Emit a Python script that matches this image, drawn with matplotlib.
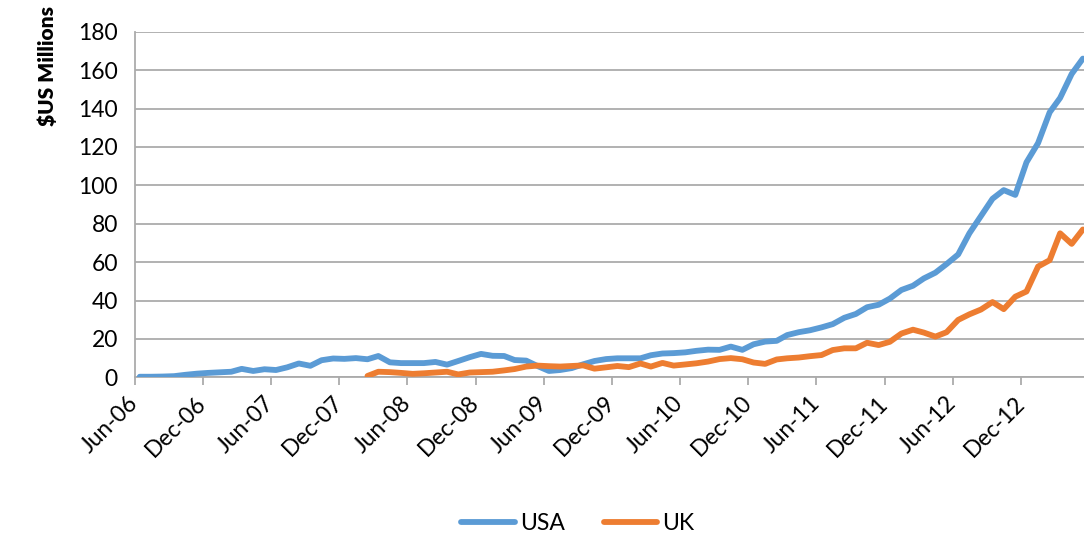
import pandas as pd
import matplotlib
matplotlib.use('Agg')
import matplotlib.pyplot as plt

# monthly values, Jun-06 .. May-13 ($US millions)
usa = [0.3, 0.3, 0.4, 0.6, 1.3, 1.9, 2.3, 2.6, 2.9, 4.4,
       3.3, 4.2, 3.8, 5.2, 7.2, 6.0, 8.9, 9.8, 9.6, 10.0,
       9.4, 11.1, 7.8, 7.4, 7.4, 7.4, 8.0, 6.6, 8.5, 10.5,
       12.2, 11.2, 11.1, 9.0, 8.7, 5.9, 3.3, 3.8, 4.8, 6.8,
       8.5, 9.5, 9.9, 9.9, 9.9, 11.5, 12.4, 12.6, 13.0, 13.8,
       14.4, 14.3, 16.0, 14.3, 17.2, 18.6, 19.0, 22.0, 23.5, 24.5,
       26.0, 27.7, 31.0, 33.0, 36.5, 37.8, 41.0, 45.5, 47.7, 51.5,
       54.5, 59.0, 64.0, 75.0, 84.0, 93.0, 97.5, 95.0, 112.0, 122.0,
       138.0, 145.5, 158.0, 166.0]

# UK series starts in Feb-08
uk = [None] * 20 + [
    0.7, 2.9, 2.7, 2.3, 1.8, 2.1, 2.5, 2.9, 1.5, 2.5,
    2.7, 2.9, 3.6, 4.3, 5.6, 6.1, 5.8, 5.6, 5.9, 6.2,
    4.5, 5.2, 5.9, 5.3, 7.2, 5.6, 7.5, 6.1, 6.7, 7.3,
    8.2, 9.5, 10.0, 9.4, 7.7, 7.0, 9.3, 9.9, 10.3, 11.0,
    11.6, 14.2, 15.1, 15.1, 18.0, 16.8, 18.5, 22.8, 24.8, 23.3,
    21.2, 23.5, 29.9, 32.8, 35.3, 39.2, 35.5, 42.0, 44.7, 57.7,
    61.0, 75.0, 69.5, 77.0]

dates = pd.date_range('2006-06-01', periods=len(usa), freq='MS') + pd.Timedelta(days=14)
tick_dates = pd.date_range('2006-06-01', '2012-12-01', freq='6MS')
tick_labels = [d.strftime('%b-%y') for d in tick_dates]

df = pd.DataFrame({'USA': usa, 'UK': uk}, index=dates).astype(float)

plt.rcParams['font.family'] = ['Lato', 'DejaVu Sans']

fig = plt.figure(figsize=(10.84, 5.33), dpi=100)
ax = fig.add_axes([0.1241, 0.2921, 0.8759, 0.6484])

grid_c = '#ABABAB'
ax.plot(df.index, df['USA'], color='#5B9BD5', lw=4.2, solid_capstyle='round',
        solid_joinstyle='round', label='USA', zorder=3)
ax.plot(df.index, df['UK'], color='#ED7D31', lw=4.2, solid_capstyle='round',
        solid_joinstyle='round', label='UK', zorder=4)

ax.set_ylim(0, 180)
ax.set_yticks(range(0, 181, 20))
ax.set_xlim(pd.Timestamp('2006-06-01'), pd.Timestamp('2013-05-18'))
ax.set_xticks(tick_dates)
ax.set_xticklabels(tick_labels, rotation=45, ha='right', va='center',
                   rotation_mode='anchor')
ax.tick_params(axis='x', length=6, color=grid_c, width=1.3, labelsize=16.5, pad=10)
ax.tick_params(axis='y', length=0, labelsize=16.5, pad=12)

ax.grid(axis='y', color=grid_c, lw=1.3)
ax.set_axisbelow(True)
for s in ['top', 'right']:
    ax.spines[s].set_visible(False)
for s in ['left', 'bottom']:
    ax.spines[s].set_color(grid_c)
    ax.spines[s].set_linewidth(1.3)

fig.text(0.044, 1 - 66 / 533, '$US Millions', rotation=90, ha='center', va='center',
         fontsize=15, fontweight='heavy')

fig.legend(loc='lower center', bbox_to_anchor=(0.533, -0.04), ncol=2, frameon=False,
           fontsize=16.5, handlelength=2.35, columnspacing=1.7, handletextpad=0.2)

fig.savefig('out.png', dpi=100)
